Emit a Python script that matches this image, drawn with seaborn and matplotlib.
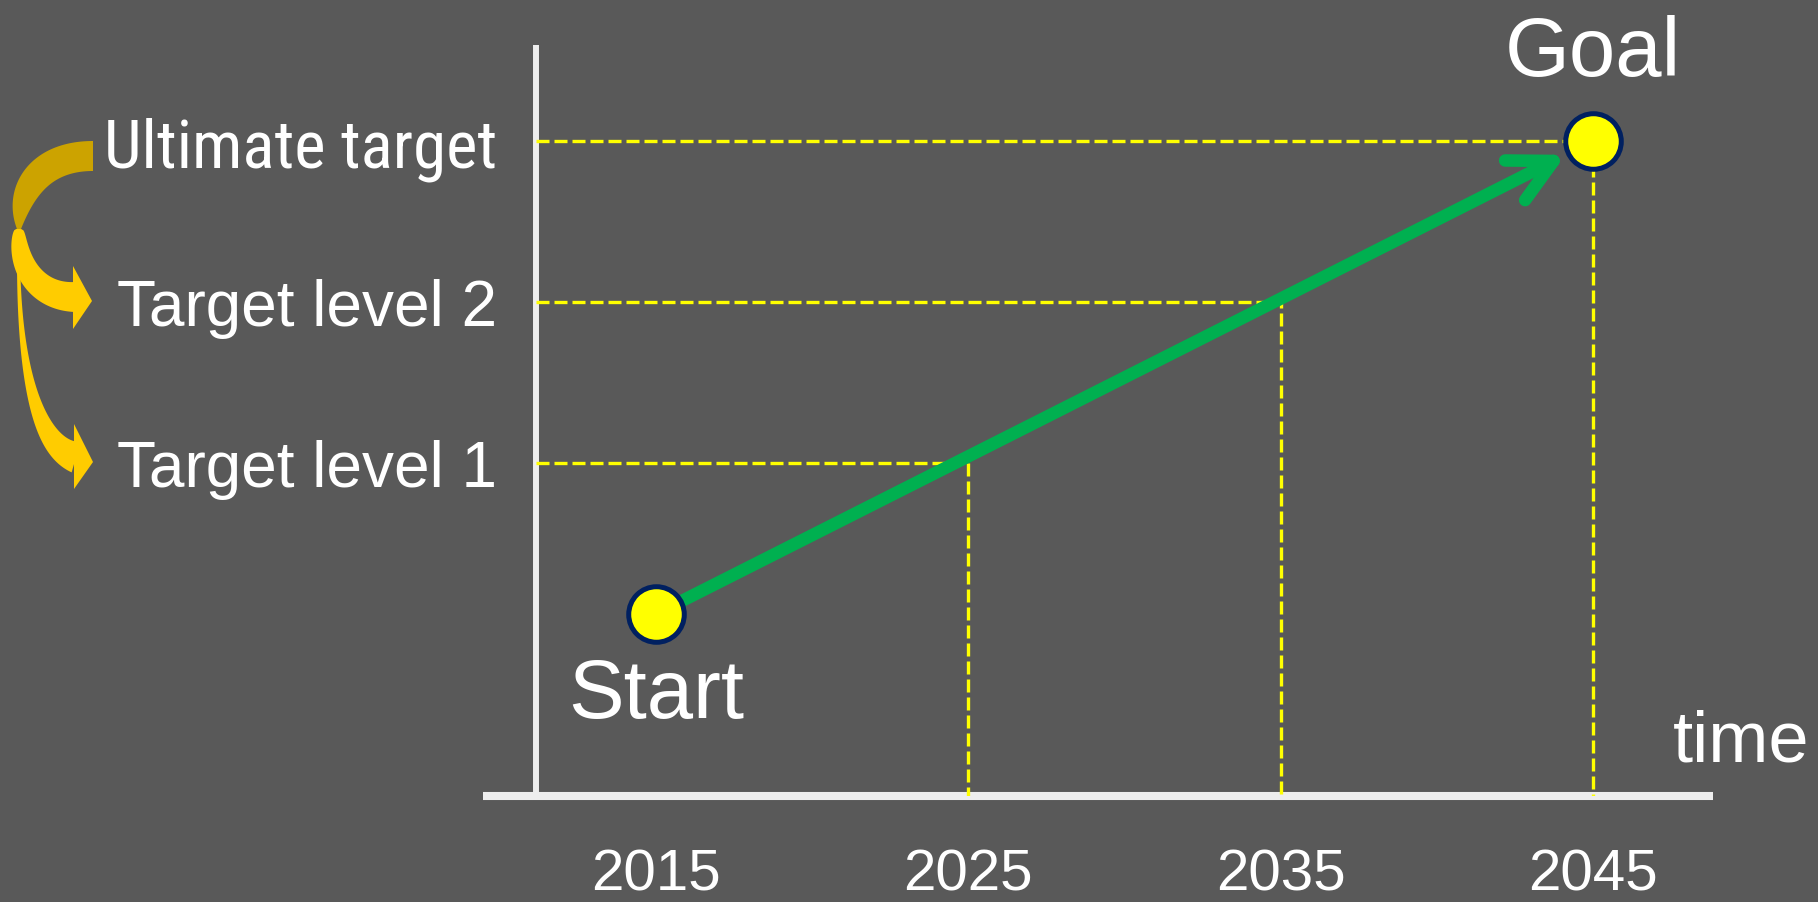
import os
import numpy as np
import pandas as pd
import matplotlib
matplotlib.use("Agg")
import matplotlib.pyplot as plt
from matplotlib import font_manager as fm
from matplotlib.font_manager import FontProperties
import seaborn as sns
from matplotlib.patches import Polygon

# ---------------- data ----------------
years = [2015, 2025, 2035, 2045]
year_labels = ["2015", "2025", "2035", "2045"]
levels = [0, 32, 66, 100]            # start, target 1, target 2, ultimate
level_names = ["Target level 1", "Target level 2", "Ultimate target"]
point_labels = ["Start", "Goal"]
axis_title = "time"

# ---------------- style ----------------
BG = "#595959"
WHITE = "#FFFFFF"
AXIS_COL = "#EEEEEE"
YELLOW = "#FFFF00"
NAVY = "#002060"
GREEN = "#00B050"
GOLD = "#FFCC00"
GOLD_DARK = "#CCA300"

sns.set_theme(style="white", rc={"figure.facecolor": BG, "axes.facecolor": BG,
                                 "savefig.facecolor": BG})
plt.rcParams["font.family"] = ["Liberation Sans", "DejaVu Sans"]


def find_narrow_font():
    prefs = ["liberation sans narrow", "arial narrow", "roboto condensed",
             "open sans condensed", "noto sans condensed", "dejavu sans condensed"]
    found = []
    for f in fm.fontManager.ttflist:
        base = os.path.basename(f.fname).lower()
        name = f.name.lower()
        narrow = ("narrow" in name or "condensed" in name or "narrow" in base
                  or "condensed" in base or str(f.stretch) in
                  ("condensed", "semi-condensed", "extra-condensed"))
        if not narrow:
            continue
        if any(k in base for k in ["bold", "italic", "oblique", "light", "thin",
                                   "black", "medium", "semibold"]):
            continue
        if f.style != "normal":
            continue
        key = name + " condensed" if "condensed" in base and "condensed" not in name else name
        rank = len(prefs)
        for i, p in enumerate(prefs):
            if p in key or p.replace(" ", "") in base.replace("-", "").replace("_", ""):
                rank = i
                break
        found.append((rank, f.fname))
    if not found:
        return None
    found.sort()
    return found[0][1]


narrow_path = find_narrow_font()

W, H = 1818, 903
fig = plt.figure(figsize=(W / 100, H / 100), dpi=100)

# axes covering the drawing area (bottom spine = time axis)
ax = fig.add_axes([483 / W, 106 / H, 1230 / W, 751 / H])
ax.set_xlim(2009.461, 2048.842)
ax.set_ylim(-38.48, 120.30)
X_SPINE = 2011.158
Y_BASE = -38.48

for s in ["top", "right"]:
    ax.spines[s].set_visible(False)
ax.spines["left"].set_position(("data", X_SPINE))
ax.spines["left"].set_color(AXIS_COL)
ax.spines["left"].set_linewidth(4.3)
ax.spines["bottom"].set_color(AXIS_COL)
ax.spines["bottom"].set_linewidth(5.8)
for s in ["left", "bottom"]:
    ax.spines[s].set_capstyle("butt")
    ax.spines[s].set_zorder(1)

# ticks -> years and target names
ax.set_xticks(years, year_labels)
ax.tick_params(axis="x", length=0, pad=37, labelsize=42, labelcolor=WHITE)
ax.set_yticks(levels[1:], level_names)
ax.tick_params(axis="y", length=0, pad=28, labelsize=46, labelcolor=WHITE)

# dashed guides: level -> year -> time axis
for yr, lv in zip(years[1:], levels[1:]):
    ax.plot([X_SPINE, yr, yr], [lv, lv, Y_BASE], color=YELLOW, lw=2.4,
            linestyle=(0, (3.9, 1.5)), zorder=2, dash_capstyle="butt")

# green path with open arrow head
ax.annotate("", xy=(years[-1], levels[-1]), xytext=(years[0], levels[0]),
            arrowprops=dict(arrowstyle="->,head_length=3.1,head_width=1.6",
                            mutation_scale=10, color=GREEN, lw=9,
                            shrinkA=0, shrinkB=22, capstyle="round",
                            joinstyle="round"),
            zorder=3)

# start / goal points
pts = pd.DataFrame({"year": [years[0], years[-1]],
                    "level": [levels[0], levels[-1]],
                    "name": point_labels})
sns.scatterplot(data=pts, x="year", y="level", s=1600, color=YELLOW,
                edgecolor=NAVY, linewidth=3.6, ax=ax, zorder=5, legend=False)
ax.set_xlabel("")
ax.set_ylabel("")

ax.annotate(point_labels[0], (years[0], levels[0]), xytext=(0, -103),
            textcoords="offset pixels", ha="center", va="baseline",
            fontsize=60, color=WHITE, annotation_clip=False)
ax.annotate(point_labels[1], (years[-1], levels[-1]), xytext=(0, 66),
            textcoords="offset pixels", ha="center", va="baseline",
            fontsize=60, color=WHITE, annotation_clip=False)

fig.text(1673 / W, 1 - 762 / H, axis_title, ha="left", va="baseline",
         fontsize=52, color=WHITE)

# condensed face for "Ultimate target", sized to the reference width
renderer = fig.canvas.get_renderer()
for lab in ax.get_yticklabels():
    if lab.get_text().startswith("Ultimate"):
        if narrow_path:
            lab.set_fontproperties(FontProperties(fname=narrow_path, size=52))
        else:
            lab.set_fontsize(52)
        wpx = lab.get_window_extent(renderer).width
        lab.set_fontsize(min(58, 52 * 394.0 / max(wpx, 1)))


# ---------------- curved ribbon arrows (decoration, pixel space) ----------------
def to_fig(p):
    p = np.asarray(p, dtype=float)
    return np.column_stack([p[:, 0] / W, 1 - p[:, 1] / H])


def bezier(P, n=90):
    P = np.asarray(P, dtype=float)
    t = np.linspace(0, 1, n)[:, None]
    B = ((1 - t) ** 3) * P[0] + 3 * ((1 - t) ** 2) * t * P[1] + \
        3 * (1 - t) * t ** 2 * P[2] + t ** 3 * P[3]
    D = 3 * ((1 - t) ** 2) * (P[1] - P[0]) + 6 * (1 - t) * t * (P[2] - P[1]) + \
        3 * t ** 2 * (P[3] - P[2])
    D = D / np.linalg.norm(D, axis=1)[:, None]
    N = np.column_stack([-D[:, 1], D[:, 0]])
    return t[:, 0], B, D, N


def ribbon(P, w_fn, color, z):
    t, B, D, N = bezier(P)
    w = np.array([w_fn(v) for v in t])[:, None]
    poly = np.vstack([B + N * w / 2, (B - N * w / 2)[::-1]])
    fig.patches.append(Polygon(to_fig(poly), closed=True, facecolor=color,
                               edgecolor="none", transform=fig.transFigure,
                               zorder=z))
    return B[-1]


def head(base_x, yc, half, tip, color, z):
    tri = np.array([(base_x, yc - half), tip, (base_x, yc + half)])
    fig.patches.append(Polygon(to_fig(tri), closed=True, facecolor=color,
                               edgecolor="none", transform=fig.transFigure,
                               zorder=z))


TWIST = (19, 230)
# arrow to Target level 1 (bright part)
ribbon([TWIST, (16, 340), (30, 445), (76, 458)],
       lambda s: 3 + 29 * s ** 2.2, GOLD, 1)
head(74, 457.5, 32.5, (93, 463), GOLD, 1)
# arrow to Target level 2 (bright part)
ribbon([TWIST, (17, 268), (38, 298), (75, 298)],
       lambda s: 5 + 25 * s ** 0.4, GOLD, 2)
head(73, 298.5, 31.5, (92, 302), GOLD, 2)
# shared back side of the ribbon (darker)
ribbon([(93, 157), (45, 157), (19, 186), TWIST],
       lambda s: 4 + 26 * (1 - s ** 4), GOLD_DARK, 3)

fig.savefig("out.png", dpi=100, facecolor=BG)
